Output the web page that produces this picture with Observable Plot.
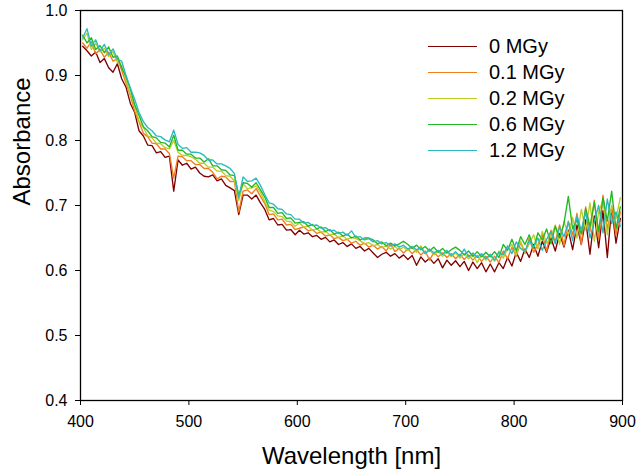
<!DOCTYPE html>
<html><head><meta charset="utf-8">
<script src="https://cdn.jsdelivr.net/npm/d3@7"></script>
<script src="https://cdn.jsdelivr.net/npm/@observablehq/plot@0.6"></script>
<style>
body{margin:0;background:#fff;font-family:"Liberation Sans",Arial,sans-serif}
#wrap{position:relative;width:640px;height:476px}
#legend{position:absolute;left:428px;top:33px}
.row{display:flex;align-items:center;height:26px}
.sw{width:49px;height:0;border-top:1.5px solid;margin-right:12px}
.lab{font-size:20px;color:#000;line-height:26px}
</style></head><body><div id="wrap"><div id="legend"></div></div>
<script>
const wavelengths = d3.range(402, 902, 4);
const doses = ["0 MGy","0.1 MGy","0.2 MGy","0.6 MGy","1.2 MGy"];
const colors = ["#800000","#f07d1e","#bccd25","#22b822","#2cb8c0"];
const xTicks = [400,500,600,700,800,900];
const yTicks = [0.4,0.5,0.6,0.7,0.8,0.9,1.0];

const abs0 = [
.945,.938,.930,.936,.920,.926,.912,.905,.918,.895,
.882,.857,.843,.815,.807,.793,.792,.781,.783,.774,
.776,.722,.770,.762,.765,.756,.759,.750,.745,.744,
.747,.738,.741,.731,.727,.723,.686,.716,.716,.710,
.716,.704,.694,.678,.680,.670,.671,.662,.663,.655,
.662,.656,.658,.652,.654,.648,.651,.644,.647,.640,
.643,.637,.641,.634,.637,.630,.634,.627,.620,.625,
.628,.622,.626,.619,.624,.617,.623,.608,.621,.613,
.619,.611,.618,.604,.616,.608,.615,.606,.614,.600,
.613,.603,.612,.598,.610,.598,.612,.603,.620,.607,
.628,.614,.633,.620,.640,.622,.645,.628,.650,.630,
.657,.636,.662,.632,.670,.640,.678,.625,.684,.635,
.692,.620,.698,.642,.680];
const abs01 = [
.950,.942,.952,.933,.940,.928,.936,.922,.926,.908,
.888,.869,.845,.829,.811,.806,.796,.795,.787,.787,
.780,.742,.776,.775,.769,.769,.763,.763,.757,.757,
.751,.741,.745,.744,.737,.737,.690,.722,.724,.718,
.726,.714,.703,.686,.687,.678,.679,.670,.671,.663,
.665,.667,.661,.663,.657,.659,.653,.655,.649,.651,
.646,.648,.642,.645,.639,.642,.636,.639,.633,.637,
.630,.641,.629,.634,.627,.633,.626,.632,.624,.630,
.616,.628,.621,.627,.620,.626,.618,.625,.617,.624,
.616,.623,.614,.622,.613,.622,.612,.630,.618,.636,
.622,.643,.626,.650,.628,.640,.656,.630,.662,.645,
.670,.638,.676,.655,.688,.640,.698,.660,.708,.648,
.716,.664,.695,.655,.690];
const abs02 = [
.955,.965,.940,.950,.936,.942,.929,.937,.920,.915,
.893,.871,.853,.830,.820,.807,.804,.796,.795,.789,
.787,.800,.782,.777,.777,.775,.771,.765,.765,.759,
.759,.753,.753,.746,.745,.738,.708,.733,.726,.727,
.730,.720,.706,.693,.691,.684,.683,.676,.675,.668,
.673,.667,.668,.662,.664,.659,.660,.655,.656,.651,
.653,.648,.651,.649,.646,.641,.643,.638,.640,.635,
.638,.633,.637,.632,.636,.631,.635,.628,.638,.626,
.631,.624,.630,.622,.629,.621,.627,.619,.626,.618,
.625,.612,.624,.616,.624,.614,.630,.619,.634,.640,
.624,.645,.628,.641,.655,.633,.660,.642,.652,.670,
.640,.676,.655,.682,.650,.694,.662,.704,.645,.690,
.708,.655,.700,.680,.712];
const abs06 = [
.962,.950,.958,.940,.946,.935,.944,.928,.930,.912,
.898,.879,.855,.839,.821,.815,.806,.804,.797,.796,
.790,.808,.785,.785,.779,.779,.773,.773,.767,.772,
.761,.761,.755,.754,.747,.746,.716,.735,.734,.728,
.735,.724,.713,.697,.697,.688,.689,.680,.681,.673,
.674,.675,.668,.671,.664,.667,.660,.663,.656,.659,
.653,.656,.650,.653,.647,.650,.650,.647,.641,.644,
.638,.642,.638,.641,.645,.640,.634,.639,.632,.637,
.630,.636,.628,.634,.627,.632,.636,.631,.624,.630,
.622,.629,.621,.628,.621,.629,.620,.640,.631,.648,
.630,.652,.640,.655,.634,.658,.647,.664,.641,.668,
.650,.672,.714,.664,.678,.656,.695,.668,.705,.660,
.712,.676,.722,.664,.698];
const abs12 = [
.958,.972,.945,.955,.938,.948,.932,.941,.925,.922,
.900,.881,.863,.843,.829,.820,.815,.807,.806,.801,
.798,.816,.794,.788,.789,.782,.782,.781,.777,.770,
.770,.764,.764,.761,.757,.749,.712,.744,.737,.738,
.742,.731,.717,.704,.702,.695,.694,.687,.686,.679,
.679,.673,.674,.669,.670,.665,.666,.661,.662,.657,
.659,.654,.661,.651,.652,.647,.649,.644,.646,.641,
.643,.638,.641,.636,.639,.633,.637,.632,.635,.626,
.633,.627,.631,.625,.631,.623,.629,.622,.633,.621,
.627,.620,.626,.618,.625,.616,.628,.624,.638,.626,
.644,.634,.629,.646,.636,.650,.631,.648,.660,.641,
.667,.652,.674,.646,.684,.662,.690,.650,.676,.700,
.658,.710,.672,.690,.668];

const series = [abs0, abs01, abs02, abs06, abs12];
const rows = series.flatMap((arr, k) => arr.map((a, i) => ({wl: wavelengths[i], a, dose: doses[k]})));

const chart = Plot.plot({
  width: 640, height: 476,
  marginLeft: 80, marginRight: 18, marginTop: 10, marginBottom: 76,
  style: {fontFamily: "'Liberation Sans', Arial, sans-serif", color: "#000", background: "#fff"},
  x: {domain: [400, 900]},
  y: {domain: [0.4, 1.0]},
  color: {domain: doses, range: colors},
  marks: [
    Plot.line(rows, {x: "wl", y: "a", z: "dose", stroke: "dose", strokeWidth: 1.35}),
    Plot.frame({stroke: "#000", strokeWidth: 1.3}),
    Plot.axisX({ticks: xTicks, tickSize: 5, tickPadding: 10, fontSize: 16, label: null, tickFormat: d => String(d)}),
    Plot.axisY({ticks: yTicks, tickSize: 5, tickPadding: 8, fontSize: 16, label: null, tickFormat: d3.format(".1f")}),
    Plot.text(["Absorbance"], {frameAnchor: "left", text: d => d, rotate: -90, dx: -58, fontSize: 24, lineAnchor: "middle"}),
    Plot.text(["Wavelength [nm]"], {frameAnchor: "bottom", text: d => d, dy: 56, fontSize: 24, lineAnchor: "middle"})
  ]
});
document.getElementById("wrap").prepend(chart);

const legend = document.getElementById("legend");
doses.forEach((d, i) => {
  const row = document.createElement("div");
  row.className = "row";
  const sw = document.createElement("div");
  sw.className = "sw";
  sw.style.borderTopColor = colors[i];
  const lab = document.createElement("span");
  lab.className = "lab";
  lab.textContent = d;
  row.append(sw, lab);
  legend.append(row);
});
</script>
</body></html>
